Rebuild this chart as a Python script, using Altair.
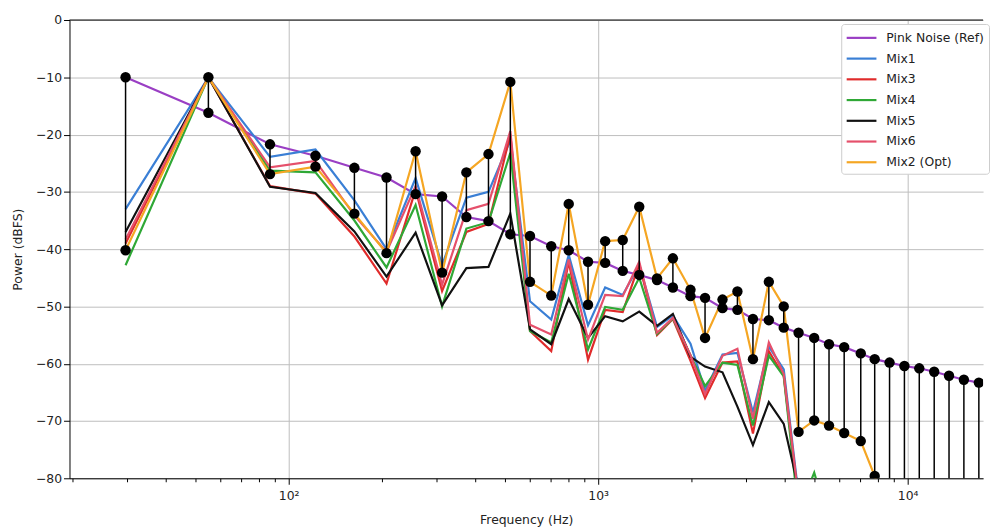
import altair as alt
import pandas as pd

# Band centre frequencies (Hz)
freqs = [29.7, 55, 87, 122, 163, 207, 257, 313, 375, 442, 520, 602, 705, 803, 927,
         1053, 1200, 1357, 1549, 1743, 1987, 2214, 2521, 2817, 3162, 3559, 3976,
         4440, 4988, 5569, 6234, 7053, 7823, 8737, 9759, 10900, 12180, 13600,
         15190, 16980, 18960]

pink = [-10, -16.2, -21.7, -23.7, -25.8, -27.5, -30.4, -30.8, -34.4, -35.1, -37.4,
        -37.7, -39.5, -40.2, -42.2, -42.4, -43.8, -44.5, -45.4, -46.7, -48.2, -48.5,
        -50.3, -50.6, -52.2, -52.4, -53.7, -54.6, -55.5, -56.6, -57.1, -58.2, -59.2,
        -59.8, -60.4, -60.8, -61.4, -62.1, -62.8, -63.3, -63.9]

mix2 = [-40.2, -10, -26.9, -25.6, -33.8, -40.7, -22.9, -44.1, -26.6, -23.4, -10.8,
        -45.7, -48.1, -32.1, -49.7, -38.6, -38.4, -32.6, -45.1, -41.6, -47.1, -55.5,
        -48.8, -47.4, -59.2, -45.7, -50.0, -71.9, -69.9, -70.8, -72.1, -73.5, -79.6,
        -88, -92, -95, -97, -99, -101, -103, -105]

mix1 = [-33, -10, -23.9, -22.6, -31.5, -40.0, -27.6, -42.8, -31.0, -30.0, -21.0,
        -49.1, -52.3, -41.0, -53.3, -46.7, -48.0, -42.8, -53.6, -51.6, -56.5, -64.7,
        -58.4, -58.1, -68.5, -57.0, -61.0, -83, -90, -92]

mix3 = [-39, -10, -29.0, -30.3, -37.8, -46.0, -29.6, -47.3, -37.0, -35.6, -20.0,
        -54.3, -57.8, -42.2, -59.3, -50.6, -51.0, -42.6, -55.0, -52.2, -59.5, -66.0,
        -59.8, -59.6, -72.2, -57.8, -62.1, -84, -90, -92]

mix4 = [-42.8, -10, -26.3, -26.6, -35.0, -43.2, -32.3, -50.0, -36.4, -35.3, -23.2,
        -54.3, -56.3, -44.3, -57.5, -50.1, -50.6, -45.0, -54.8, -52.1, -58.5, -63.9,
        -59.8, -60.2, -70.8, -58.6, -62.2, -86, -79.0, -88]

mix5 = [-37, -10, -29.1, -30.2, -36.9, -44.8, -37.1, -49.8, -43.3, -43.1, -33.8,
        -54.0, -56.6, -48.7, -55.5, -51.7, -52.6, -50.9, -53.4, -51.3, -58.8, -60.5,
        -61.5, -67.5, -74.2, -66.7, -70.5, -81.8, -90, -92]

mix6 = [-38.3, -10, -25.7, -24.6, -34.1, -40.5, -29.0, -46.2, -33.2, -32.1, -19.4,
        -53.2, -54.9, -41.8, -55.8, -48.0, -48.2, -42.2, -54.6, -52.0, -58.5, -65.3,
        -58.6, -57.4, -69.6, -56.3, -61.8, -83.5, -90, -92]

series_names = ["Pink Noise (Ref)", "Mix1", "Mix3", "Mix4", "Mix5", "Mix6", "Mix2 (Opt)"]
series_colors = ["#9a3fc4", "#3a7fd5", "#e02b2b", "#2fa836", "#111111", "#e5506b", "#f5a623"]
series_values = [pink, mix1, mix3, mix4, mix5, mix6, mix2]

y_ticks = [0, -10, -20, -30, -40, -50, -60, -70, -80]
x_major = [100, 1000, 10000]
x_minor = [20, 30, 40, 50, 60, 70, 80, 90,
           200, 300, 400, 500, 600, 700, 800, 900,
           2000, 3000, 4000, 5000, 6000, 7000, 8000, 9000]

rows = []
for name, vals in zip(series_names, series_values):
    for i, v in enumerate(vals):
        rows.append({"series": name, "freq": freqs[i], "power": v, "idx": i})
lines_df = pd.DataFrame(rows)

stem_df = pd.DataFrame({"freq": freqs, "power": pink, "opt": mix2})
dots_df = pd.DataFrame({"freq": freqs + freqs, "power": pink + mix2})
top_df = pd.DataFrame({"power": [0]})

major_test = "datum.value == 100 || datum.value == 1000 || datum.value == 10000"

x_scale = alt.Scale(type="log", domain=[19.57, 17520], nice=False)
y_scale = alt.Scale(domain=[-80, 0], nice=False, zero=False)

x_axis = alt.Axis(
    title="Frequency (Hz)",
    values=x_major + x_minor,
    labelExpr="datum.value == 100 ? '10²' : datum.value == 1000 ? '10³' : datum.value == 10000 ? '10⁴' : ''",
    grid=True,
    gridOpacity={"condition": {"test": major_test, "value": 1}, "value": 0},
    tickSize={"condition": {"test": major_test, "value": 6}, "value": 3.5},
    labelOverlap=False,
    labelFlush=False,
    labelPadding=5,
    titlePadding=12,
)
y_axis = alt.Axis(
    title="Power (dBFS)",
    values=y_ticks,
    grid=True,
    tickSize=6,
    labelPadding=2,
    titlePadding=11,
)

X = alt.X("freq:Q", scale=x_scale, axis=x_axis)
Y = alt.Y("power:Q", scale=y_scale, axis=y_axis)

lines = alt.Chart(lines_df).mark_line(strokeWidth=2.2, clip=True).encode(
    x=X,
    y=Y,
    color=alt.Color(
        "series:N",
        scale=alt.Scale(domain=series_names, range=series_colors),
        legend=alt.Legend(
            title=None,
            orient="none",
            legendX=778,
            legendY=4,
            symbolType="M-2,0H2",
            symbolSize=225,
            symbolStrokeWidth=2.2,
            symbolOffset=6.5,
            labelFontSize=12.5,
            labelFont="DejaVu Sans",
            labelColor="#222222",
            labelOffset=16,
            fillColor="white",
            strokeColor="#cccccc",
            cornerRadius=3,
            padding=5,
            rowPadding=4.9,
        ),
    ),
    order="idx:Q",
)

stems = alt.Chart(stem_df).mark_rule(color="black", strokeWidth=1.5, clip=True).encode(
    x=X, y=Y, y2="opt:Q"
)

dots = alt.Chart(dots_df).mark_circle(color="black", size=110, opacity=1, clip=True).encode(
    x=X, y=Y
)

top_line = alt.Chart(top_df).mark_rule(color="black", strokeWidth=1).encode(y=Y)

chart = alt.layer(lines, stems, dots, top_line).properties(
    width=921,
    height=462,
    autosize=alt.AutoSizeParams(type="none"),
    padding={"left": 62, "top": 10, "right": 8, "bottom": 48},
).configure_view(stroke=None).configure_axis(
    domainColor="black",
    domainWidth=1,
    tickColor="black",
    gridColor="#bdbdbd",
    gridWidth=1,
    labelFont="DejaVu Sans",
    labelFontSize=12.5,
    labelColor="#222222",
    titleFont="DejaVu Sans",
    titleFontSize=12.5,
    titleFontWeight="normal",
    titleColor="#222222",
)

chart.save("out.html", embed_options={"renderer": "svg", "actions": False})
